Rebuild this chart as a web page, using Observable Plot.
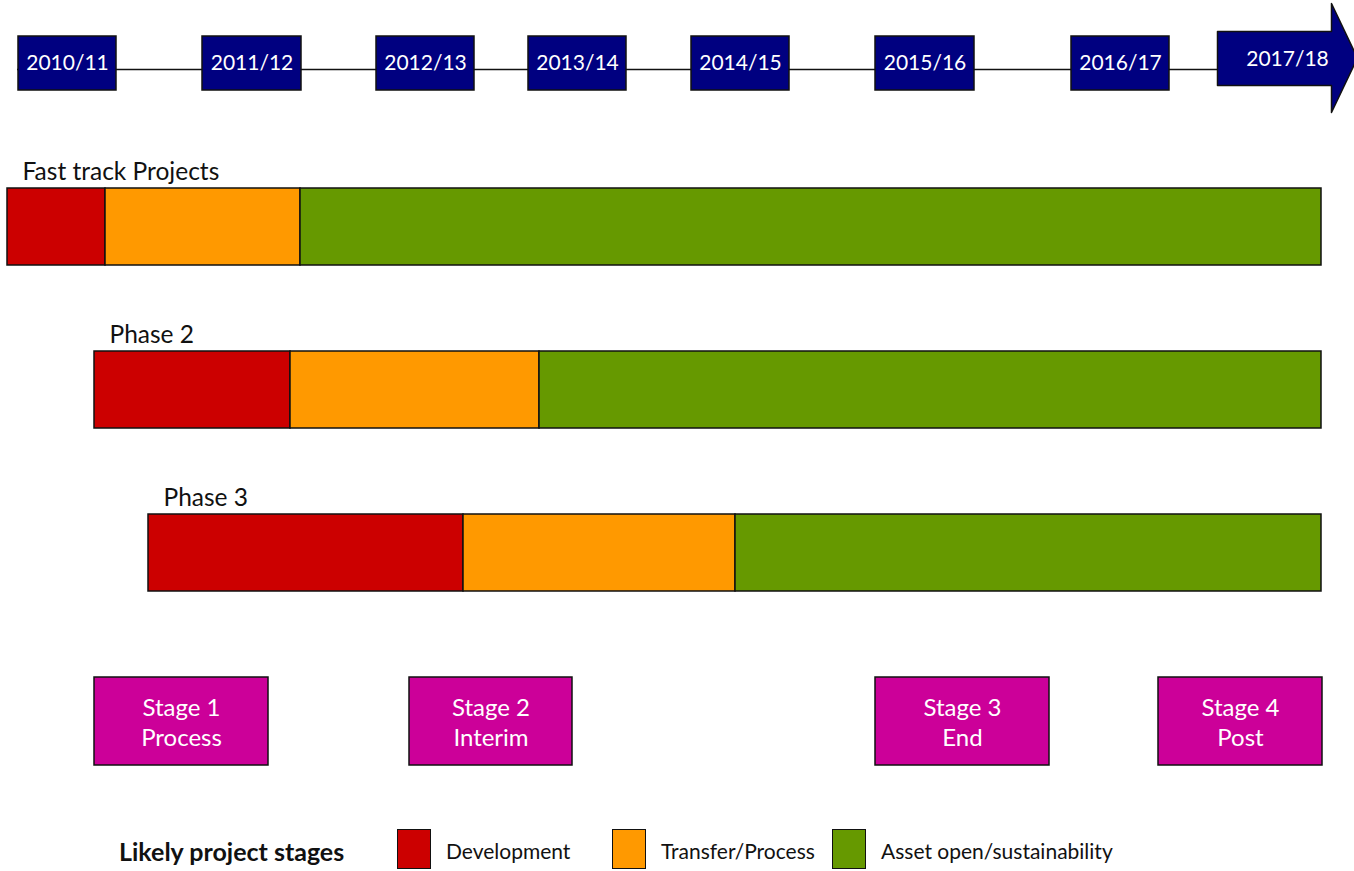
<!DOCTYPE html>
<html>
<head>
<meta charset="utf-8">
<script src="https://cdn.jsdelivr.net/npm/d3@7"></script>
<script src="https://cdn.jsdelivr.net/npm/@observablehq/plot@0.6"></script>
<style>
  html, body { margin: 0; padding: 0; background: #fff; }
  body { width: 1354px; height: 871px; overflow: hidden; font-family: Lato, "Open Sans", sans-serif; }
  #legend { position: relative; width: 1354px; height: 56px; color: #111; }
  #legend .title { position: absolute; font-weight: bold; font-size: 25px; white-space: nowrap; }
  #legend .sw { position: absolute; box-sizing: border-box; border: 1.5px solid #111; }
  #legend .lab { position: absolute; font-size: 21px; white-space: nowrap; }
</style>
</head>
<body>
<div id="chart"></div>
<div id="legend"></div>
<script>
// ---- data (timeline positions along the year axis) ----
const years = ["2010/11", "2011/12", "2012/13", "2013/14", "2014/15", "2015/16", "2016/17", "2017/18"];
const yearStart = [18, 202, 376, 528, 691, 875, 1071, 1217];
const yearEnd = [116, 301, 474, 626, 789, 974, 1169, 1331];
const timelineEnd = 1357;

const projects = ["Fast track Projects", "Phase 2", "Phase 3"];
const developmentStart = [7, 94, 148];
const transferStart = [105, 290, 463];
const assetStart = [300, 539, 735];
const assetEnd = [1321, 1321, 1321];

const stageTitles = ["Stage 1", "Stage 2", "Stage 3", "Stage 4"];
const stageNames = ["Process", "Interim", "End", "Post"];
const stageStart = [94, 409, 875, 1158];
const stageEnd = [268, 572, 1049, 1322];

const phaseNames = ["Development", "Transfer/Process", "Asset open/sustainability"];
const phaseColors = ["#CC0000", "#FF9900", "#669900"];
const legendTitle = "Likely project stages";

// ---- layout ----
const W = 1354, H = 815;
const L = {
  yearTop: 36, yearBottom: 90, lineY: 69,
  arrowTop: 31, arrowBottom: 85, headTop: 3, headBottom: 112,
  firstBarTop: 188, barStep: 163, barH: 77, labelInset: 15, labelRise: 16,
  stageTop: 677, stageBottom: 765
};
const navy = "#000080", magenta = "#CC0099", edge = "#111";
const font = "Lato, 'Open Sans', sans-serif";

const yearBoxes = years.slice(0, -1).map((label, i) => ({label, x1: yearStart[i], x2: yearEnd[i]}));
const last = years.length - 1;
const aMid = (L.arrowTop + L.arrowBottom) / 2;
const arrow = [
  [yearStart[last], L.arrowTop], [yearEnd[last], L.arrowTop], [yearEnd[last], L.headTop],
  [timelineEnd, (L.headTop + L.headBottom) / 2], [yearEnd[last], L.headBottom],
  [yearEnd[last], L.arrowBottom], [yearStart[last], L.arrowBottom], [yearStart[last], L.arrowTop]
];
const barTop = i => L.firstBarTop + i * L.barStep;
const segments = projects.flatMap((project, i) => [
  {project, row: i, phase: phaseNames[0], x1: developmentStart[i], x2: transferStart[i]},
  {project, row: i, phase: phaseNames[1], x1: transferStart[i], x2: assetStart[i]},
  {project, row: i, phase: phaseNames[2], x1: assetStart[i], x2: assetEnd[i]}
]);
const projectLabels = projects.map((name, i) => ({name, x: developmentStart[i] + L.labelInset, y: barTop(i) - L.labelRise}));
const stages = stageTitles.map((t, i) => ({text: t + "\n" + stageNames[i], x1: stageStart[i], x2: stageEnd[i]}));

const chart = Plot.plot({
  width: W, height: H,
  margin: 0,
  style: {fontFamily: font, background: "#fff"},
  x: {domain: [0, W], range: [0, W], axis: null},
  y: {domain: [0, H], range: [0, H], axis: null},
  color: {domain: phaseNames, range: phaseColors},
  marks: [
    // timeline connector
    Plot.ruleY([L.lineY], {x1: yearStart[0] - 1, x2: yearStart[last], stroke: "#111", strokeWidth: 1.5}),
    // year boxes
    Plot.rect(yearBoxes, {x1: "x1", x2: "x2", y1: () => L.yearTop, y2: () => L.yearBottom, fill: navy, stroke: edge, strokeWidth: 1.5}),
    Plot.text(yearBoxes, {x: d => (d.x1 + d.x2) / 2, y: () => (L.yearTop + L.yearBottom) / 2, text: "label", fill: "#fff", fontSize: 21}),
    // final year arrow
    Plot.line(arrow, {x: d => d[0], y: d => d[1], fill: navy, stroke: edge, strokeWidth: 1.5, curve: "linear"}),
    Plot.text([years[last]], {x: () => (yearStart[last] + timelineEnd) / 2, y: () => aMid + 1, text: d => d, fill: "#fff", fontSize: 21}),
    // project bars
    Plot.rect(segments, {x1: "x1", x2: "x2", y1: d => barTop(d.row), y2: d => barTop(d.row) + L.barH, fill: "phase", stroke: edge, strokeWidth: 1.5}),
    Plot.text(projectLabels, {x: "x", y: "y", text: "name", textAnchor: "start", fill: "#111", fontSize: 24.5}),
    // stage boxes
    Plot.rect(stages, {x1: "x1", x2: "x2", y1: () => L.stageTop, y2: () => L.stageBottom, fill: magenta, stroke: edge, strokeWidth: 1.5}),
    Plot.text(stages, {x: d => (d.x1 + d.x2) / 2, y: () => (L.stageTop + L.stageBottom) / 2, text: "text", fill: "#fff", fontSize: 24, lineHeight: 1.22})
  ]
});
document.getElementById("chart").appendChild(chart);

// ---- legend (below the svg) ----
const legend = document.getElementById("legend");
const swLeft = [397, 612, 832];
const swTop = 829 - H, swH = 40, swW = 34;
const t = document.createElement("div");
t.className = "title"; t.textContent = legendTitle;
t.style.left = "119px"; t.style.top = (852 - H - 16) + "px";
legend.appendChild(t);
phaseNames.forEach((name, i) => {
  const s = document.createElement("div");
  s.className = "sw";
  s.style.left = swLeft[i] + "px"; s.style.top = swTop + "px";
  s.style.width = swW + "px"; s.style.height = swH + "px";
  s.style.background = phaseColors[i];
  legend.appendChild(s);
  const l = document.createElement("div");
  l.className = "lab"; l.textContent = name;
  l.style.left = (swLeft[i] + swW + 15) + "px"; l.style.top = (852 - H - 14) + "px";
  legend.appendChild(l);
});
</script>
</body>
</html>
